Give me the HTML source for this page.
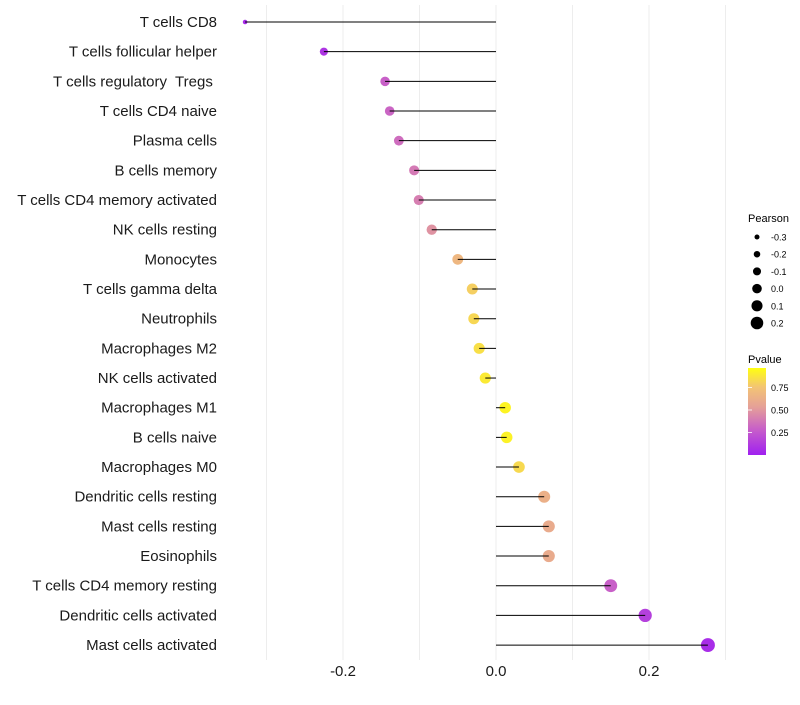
<!DOCTYPE html>
<html><head><meta charset="utf-8"><style>
body{margin:0;background:#fff;font-family:"Liberation Sans",sans-serif;}
text{white-space:pre;}
</style></head><body>
<svg id="c" width="800" height="700" xmlns="http://www.w3.org/2000/svg">
<defs><linearGradient id="pg" x1="0" y1="1" x2="0" y2="0">
<stop offset="0" stop-color="#a020f0"/><stop offset="0.3" stop-color="#c860c8"/><stop offset="0.55" stop-color="#e5a098"/><stop offset="0.78" stop-color="#f3c474"/><stop offset="1" stop-color="#ffff10"/>
</linearGradient></defs>
<g id="grid"></g><g id="marks"></g><g id="labels"></g>
<g>
<text x="748" y="222" font-size="11">Pearson</text>
<g id="sizeLeg"></g>
<text x="748" y="363" font-size="11">Pvalue</text>
<rect x="748" y="368" width="18" height="87" fill="url(#pg)"/>
<g id="colLeg"></g>
</g>
</svg>
<script>
const categories=["T cells CD8","T cells follicular helper","T cells regulatory  Tregs ","T cells CD4 naive","Plasma cells","B cells memory","T cells CD4 memory activated","NK cells resting","Monocytes","T cells gamma delta","Neutrophils","Macrophages M2","NK cells activated","Macrophages M1","B cells naive","Macrophages M0","Dendritic cells resting","Mast cells resting","Eosinophils","T cells CD4 memory resting","Dendritic cells activated","Mast cells activated"];
const pearson=[-0.328,-0.225,-0.145,-0.139,-0.127,-0.107,-0.101,-0.084,-0.050,-0.031,-0.029,-0.022,-0.014,0.012,0.014,0.030,0.063,0.069,0.069,0.150,0.195,0.277];
const pvalues=[0.05,0.1,0.3,0.32,0.35,0.4,0.42,0.5,0.7,0.82,0.85,0.88,0.92,0.96,0.95,0.86,0.65,0.62,0.62,0.3,0.15,0.06];
const xTicks=[-0.2,0.0,0.2];
const xMinor=[-0.3,-0.1,0.1,0.3];
const sizeTicks=[-0.3,-0.2,-0.1,0.0,0.1,0.2];
const colTicks=[0.25,0.5,0.75];
const NS="http://www.w3.org/2000/svg";
const xs=v=>496+v*765;
const ys=i=>22+i*29.67;
const rs=v=>2+5*Math.sqrt(Math.max(0,(v+0.33)/0.61));
const rl=v=>2.5+(v+0.3)/0.5*3.8;
const stops=[[0,[160,32,240]],[0.3,[200,96,200]],[0.55,[229,160,152]],[0.78,[243,196,116]],[1,[255,255,16]]];
function col(p){for(let i=1;i<stops.length;i++){if(p<=stops[i][0]){const a=stops[i-1],b=stops[i],t=(p-a[0])/(b[0]-a[0]);return "rgb("+a[1].map((c,k)=>Math.round(c+(b[1][k]-c)*t)).join(",")+")";}}return "rgb(255,255,16)";}
const cy=p=>455-p*90;
function mk(t,a,parent){const e=document.createElementNS(NS,t);for(const k in a)e.setAttribute(k,a[k]);document.getElementById(parent).appendChild(e);return e;}
xMinor.concat(xTicks).forEach(v=>{
 const l=mk("line",{x1:xs(v),x2:xs(v),y1:5,y2:660,stroke:"#ededed","stroke-width":1},"grid");
 
 
});
xTicks.forEach(v=>{
 const t=mk("text",{x:xs(v),y:676,"font-size":15,"text-anchor":"middle",fill:"#1a1a1a"},"labels");
 t.textContent=v.toFixed(1);
 
 
});
categories.forEach((c,i)=>{
 const t=mk("text",{x:217,y:ys(i)+5,"font-size":15,"text-anchor":"end",fill:"#1a1a1a"},"labels");
 t.textContent=c;
 
 
 const p=mk("circle",{cx:xs(pearson[i]),cy:ys(i),r:rs(pearson[i]),fill:col(pvalues[i])},"marks");
 
 
 const l=mk("line",{x1:xs(0),x2:xs(pearson[i]),y1:ys(i),y2:ys(i),stroke:"#000","stroke-width":1},"marks");
 
 
});
sizeTicks.forEach((v,i)=>{
 const y=237+i*17.2;
 const c=mk("circle",{cx:757,cy:y,r:rl(v),fill:"#000"},"sizeLeg");
 
 
 const t=mk("text",{x:771,y:y+3.5,"font-size":9},"sizeLeg");
 t.textContent=v.toFixed(1);
 
 
});
colTicks.forEach(v=>{
 const l=mk("line",{x1:748,x2:752,y1:cy(v),y2:cy(v),stroke:"#fff","stroke-width":0.8},"colLeg");
 
 
 const t=mk("text",{x:771,y:cy(v)+3.5,"font-size":9},"colLeg");
 t.textContent=v.toFixed(2);
 
 
});
</script>
</body></html>
